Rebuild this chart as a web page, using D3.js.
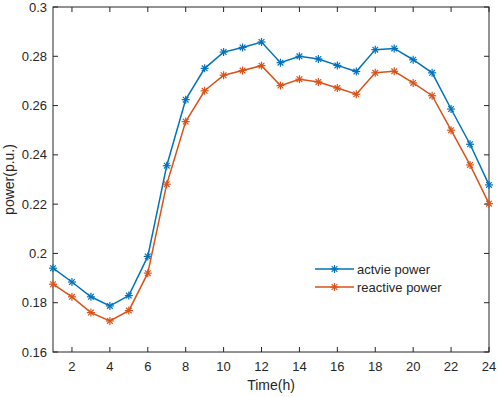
<!DOCTYPE html>
<html>
<head>
<meta charset="UTF-8">
<script src="https://cdn.jsdelivr.net/npm/d3@7/dist/d3.min.js"></script>
<style>
  body { margin: 0; background: #fff; }
  text { font-family: "Liberation Sans", Arial, sans-serif; }
</style>
</head>
<body>
<svg id="chart" width="498" height="397"></svg>
<script>
// hourly load, p.u.
const hours = d3.range(1, 25);
const activePower = [0.1940, 0.1884, 0.1824, 0.1787, 0.1829, 0.1988, 0.2356, 0.2624, 0.2751, 0.2817, 0.2836, 0.2858,
                     0.2774, 0.2800, 0.2789, 0.2763, 0.2738, 0.2827, 0.2832, 0.2786, 0.2733, 0.2586, 0.2443, 0.2278];
const reactivePower = [0.1875, 0.1824, 0.1760, 0.1726, 0.1768, 0.1920, 0.2281, 0.2535, 0.2660, 0.2723, 0.2742, 0.2762,
                       0.2681, 0.2707, 0.2696, 0.2671, 0.2646, 0.2733, 0.2739, 0.2692, 0.2640, 0.2500, 0.2359, 0.2202];
const seriesNames = ["actvie power", "reactive power"];
const xTicks = d3.range(2, 25, 2);
const yTicks = [0.16, 0.18, 0.2, 0.22, 0.24, 0.26, 0.28, 0.3];

const colors = ["#0072BD", "#D95319"];
const axisColor = "#262626";

const margin = {top: 7, right: 9, bottom: 45, left: 53};
const width = 498, height = 397;

const svg = d3.select("#chart");

const x = d3.scaleLinear().domain([1, 24]).range([margin.left, width - margin.right]);
const y = d3.scaleLinear().domain([0.16, 0.3]).range([height - margin.bottom, margin.top]);

const fmt = d => String(+d.toFixed(2));
const tick = 5;

// box
svg.append("rect")
    .attr("x", x(1)).attr("y", y(0.3))
    .attr("width", x(24) - x(1)).attr("height", y(0.16) - y(0.3))
    .attr("fill", "none").attr("stroke", axisColor).attr("stroke-width", 1);

const g = svg.append("g").attr("stroke", axisColor).attr("stroke-width", 1);

// x ticks (bottom + top, inward)
xTicks.forEach(t => {
  g.append("line").attr("x1", x(t)).attr("x2", x(t)).attr("y1", y(0.16)).attr("y2", y(0.16) - tick);
  g.append("line").attr("x1", x(t)).attr("x2", x(t)).attr("y1", y(0.3)).attr("y2", y(0.3) + tick);
});
// y ticks (left + right, inward)
yTicks.forEach(t => {
  g.append("line").attr("x1", x(1)).attr("x2", x(1) + tick).attr("y1", y(t)).attr("y2", y(t));
  g.append("line").attr("x1", x(24)).attr("x2", x(24) - tick).attr("y1", y(t)).attr("y2", y(t));
});

svg.append("g").selectAll("text").data(xTicks).join("text")
    .attr("x", d => x(d)).attr("y", y(0.16) + 19)
    .attr("text-anchor", "middle").attr("font-size", 13).attr("fill", axisColor)
    .text(d => d);

svg.append("g").selectAll("text").data(yTicks).join("text")
    .attr("x", x(1) - 6).attr("y", d => y(d)).attr("dy", "0.35em")
    .attr("text-anchor", "end").attr("font-size", 13).attr("fill", axisColor)
    .text(fmt);

svg.append("text")
    .attr("x", (x(1) + x(24)) / 2).attr("y", 390)
    .attr("text-anchor", "middle").attr("font-size", 14).attr("fill", axisColor)
    .text("Time(h)");

svg.append("text")
    .attr("transform", `translate(14,${(y(0.16) + y(0.3)) / 2}) rotate(-90)`)
    .attr("text-anchor", "middle").attr("font-size", 14).attr("fill", axisColor)
    .text("power(p.u.)");

// asterisk marker
function star(sel, cx, cy, r, color) {
  const gg = sel.append("g").attr("stroke", color).attr("stroke-width", 1.2);
  [0, 45, 90, 135].forEach(a => {
    const rad = a * Math.PI / 180;
    gg.append("line")
      .attr("x1", cx - r * Math.cos(rad)).attr("y1", cy - r * Math.sin(rad))
      .attr("x2", cx + r * Math.cos(rad)).attr("y2", cy + r * Math.sin(rad));
  });
}

const line = d3.line().x((d, i) => x(hours[i])).y(d => y(d));

[activePower, reactivePower].forEach((vals, k) => {
  svg.append("path").datum(vals)
    .attr("d", line).attr("fill", "none")
    .attr("stroke", colors[k]).attr("stroke-width", 1.5);
  const mg = svg.append("g");
  vals.forEach((v, i) => star(mg, x(hours[i]), y(v), 4, colors[k]));
});

// legend
const lg = svg.append("g");
seriesNames.forEach((name, k) => {
  const ly = 269 + k * 18;
  lg.append("line").attr("x1", 315).attr("x2", 354).attr("y1", ly).attr("y2", ly)
    .attr("stroke", colors[k]).attr("stroke-width", 1.5);
  star(lg, 334.5, ly, 4, colors[k]);
  lg.append("text").attr("x", 357).attr("y", ly).attr("dy", "0.35em")
    .attr("font-size", 13).attr("fill", axisColor).text(name);
});
</script>
</body>
</html>
